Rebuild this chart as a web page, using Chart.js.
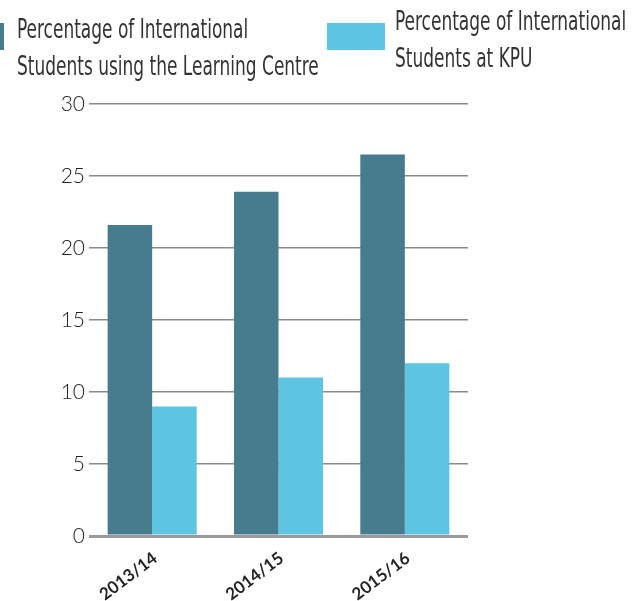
<!DOCTYPE html>
<html>
<head>
<meta charset="utf-8">
<script src="https://cdn.jsdelivr.net/npm/chart.js@4"></script>
<style>
  html, body { margin: 0; padding: 0; background: #fff; }
  #wrap { position: relative; width: 637px; height: 601px; overflow: hidden; }
  #chart { position: absolute; left: 0; top: 0; }
  .lg-box { position: absolute; height: 27px; width: 58px; }
  .lg-text {
    position: absolute; white-space: nowrap; color: #333;
    font-family: "Liberation Sans Narrow", "DejaVu Sans Condensed", sans-serif;
    font-size: 27px; line-height: 37px;
    transform: scaleX(0.7); transform-origin: 0 0;
  }
</style>
</head>
<body>
<div id="wrap">
  <canvas id="chart" width="637" height="601"></canvas>
  <div id="legend"></div>
</div>
<script>
// данные графика
const years = ['2013/14', '2014/15', '2015/16'];
const learningCentre = [21.6, 23.9, 26.5];
const kpuOverall = [9, 11, 12];
const seriesNames = [
  'Percentage of International\nStudents using the Learning Centre',
  'Percentage of International\nStudents at KPU',
];
const yTicks = [0, 5, 10, 15, 20, 25, 30];

const DARK = '#477c8f';
const LIGHT = '#5dc4e2';

// позиции легенды (бокс и текст)
const legendSpots = [
  { box: [-54, 23], text: [17, 10] },
  { box: [327, 23], text: [395, 2] },
];

const chart = new Chart(document.getElementById('chart'), {
  type: 'bar',
  data: {
    labels: years,
    datasets: [
      { label: seriesNames[0], data: learningCentre, backgroundColor: DARK,
        barPercentage: 1, categoryPercentage: 0.705 },
      { label: seriesNames[1], data: kpuOverall, backgroundColor: LIGHT,
        barPercentage: 1, categoryPercentage: 0.705 },
    ],
  },
  options: {
    responsive: false,
    animation: false,
    layout: { padding: { top: 104, right: 169, left: 0, bottom: 0 } },
    plugins: { legend: { display: false }, tooltip: { enabled: false } },
    scales: {
      x: {
        grid: { display: false },
        border: { display: false },
        ticks: {
          color: '#222', maxRotation: 37, minRotation: 37, padding: 4, labelOffset: 3,
          font: { family: 'Lato, "DejaVu Sans", sans-serif', size: 17, weight: 'bold' },
        },
        afterFit(axis) { axis.height = 65; },
      },
      y: {
        min: 0, max: 30,
        afterBuildTicks(axis) { axis.ticks = yTicks.map((v) => ({ value: v })); },
        border: { display: false },
        grid: {
          drawTicks: false,
          color: (c) => (c.tick && c.tick.value === 0 ? '#9a9a9a' : '#8a8a8a'),
          lineWidth: (c) => (c.tick && c.tick.value === 0 ? 3 : 1.5),
        },
        ticks: {
          color: '#222', padding: 4,
          font: { family: 'Lato, "DejaVu Sans", sans-serif', size: 21, weight: 300 },
        },
        afterFit(axis) { axis.width = 89; },
      },
    },
  },
});

// легенда — HTML, по подписям датасетов
const legendEl = document.getElementById('legend');
chart.data.datasets.forEach((ds, i) => {
  const spot = legendSpots[i];
  const box = document.createElement('div');
  box.className = 'lg-box';
  box.style.left = spot.box[0] + 'px';
  box.style.top = spot.box[1] + 'px';
  box.style.background = ds.backgroundColor;
  legendEl.appendChild(box);
  const txt = document.createElement('div');
  txt.className = 'lg-text';
  txt.style.left = spot.text[0] + 'px';
  txt.style.top = spot.text[1] + 'px';
  txt.innerHTML = ds.label.split('\n').join('<br>');
  legendEl.appendChild(txt);
});
</script>
</body>
</html>
